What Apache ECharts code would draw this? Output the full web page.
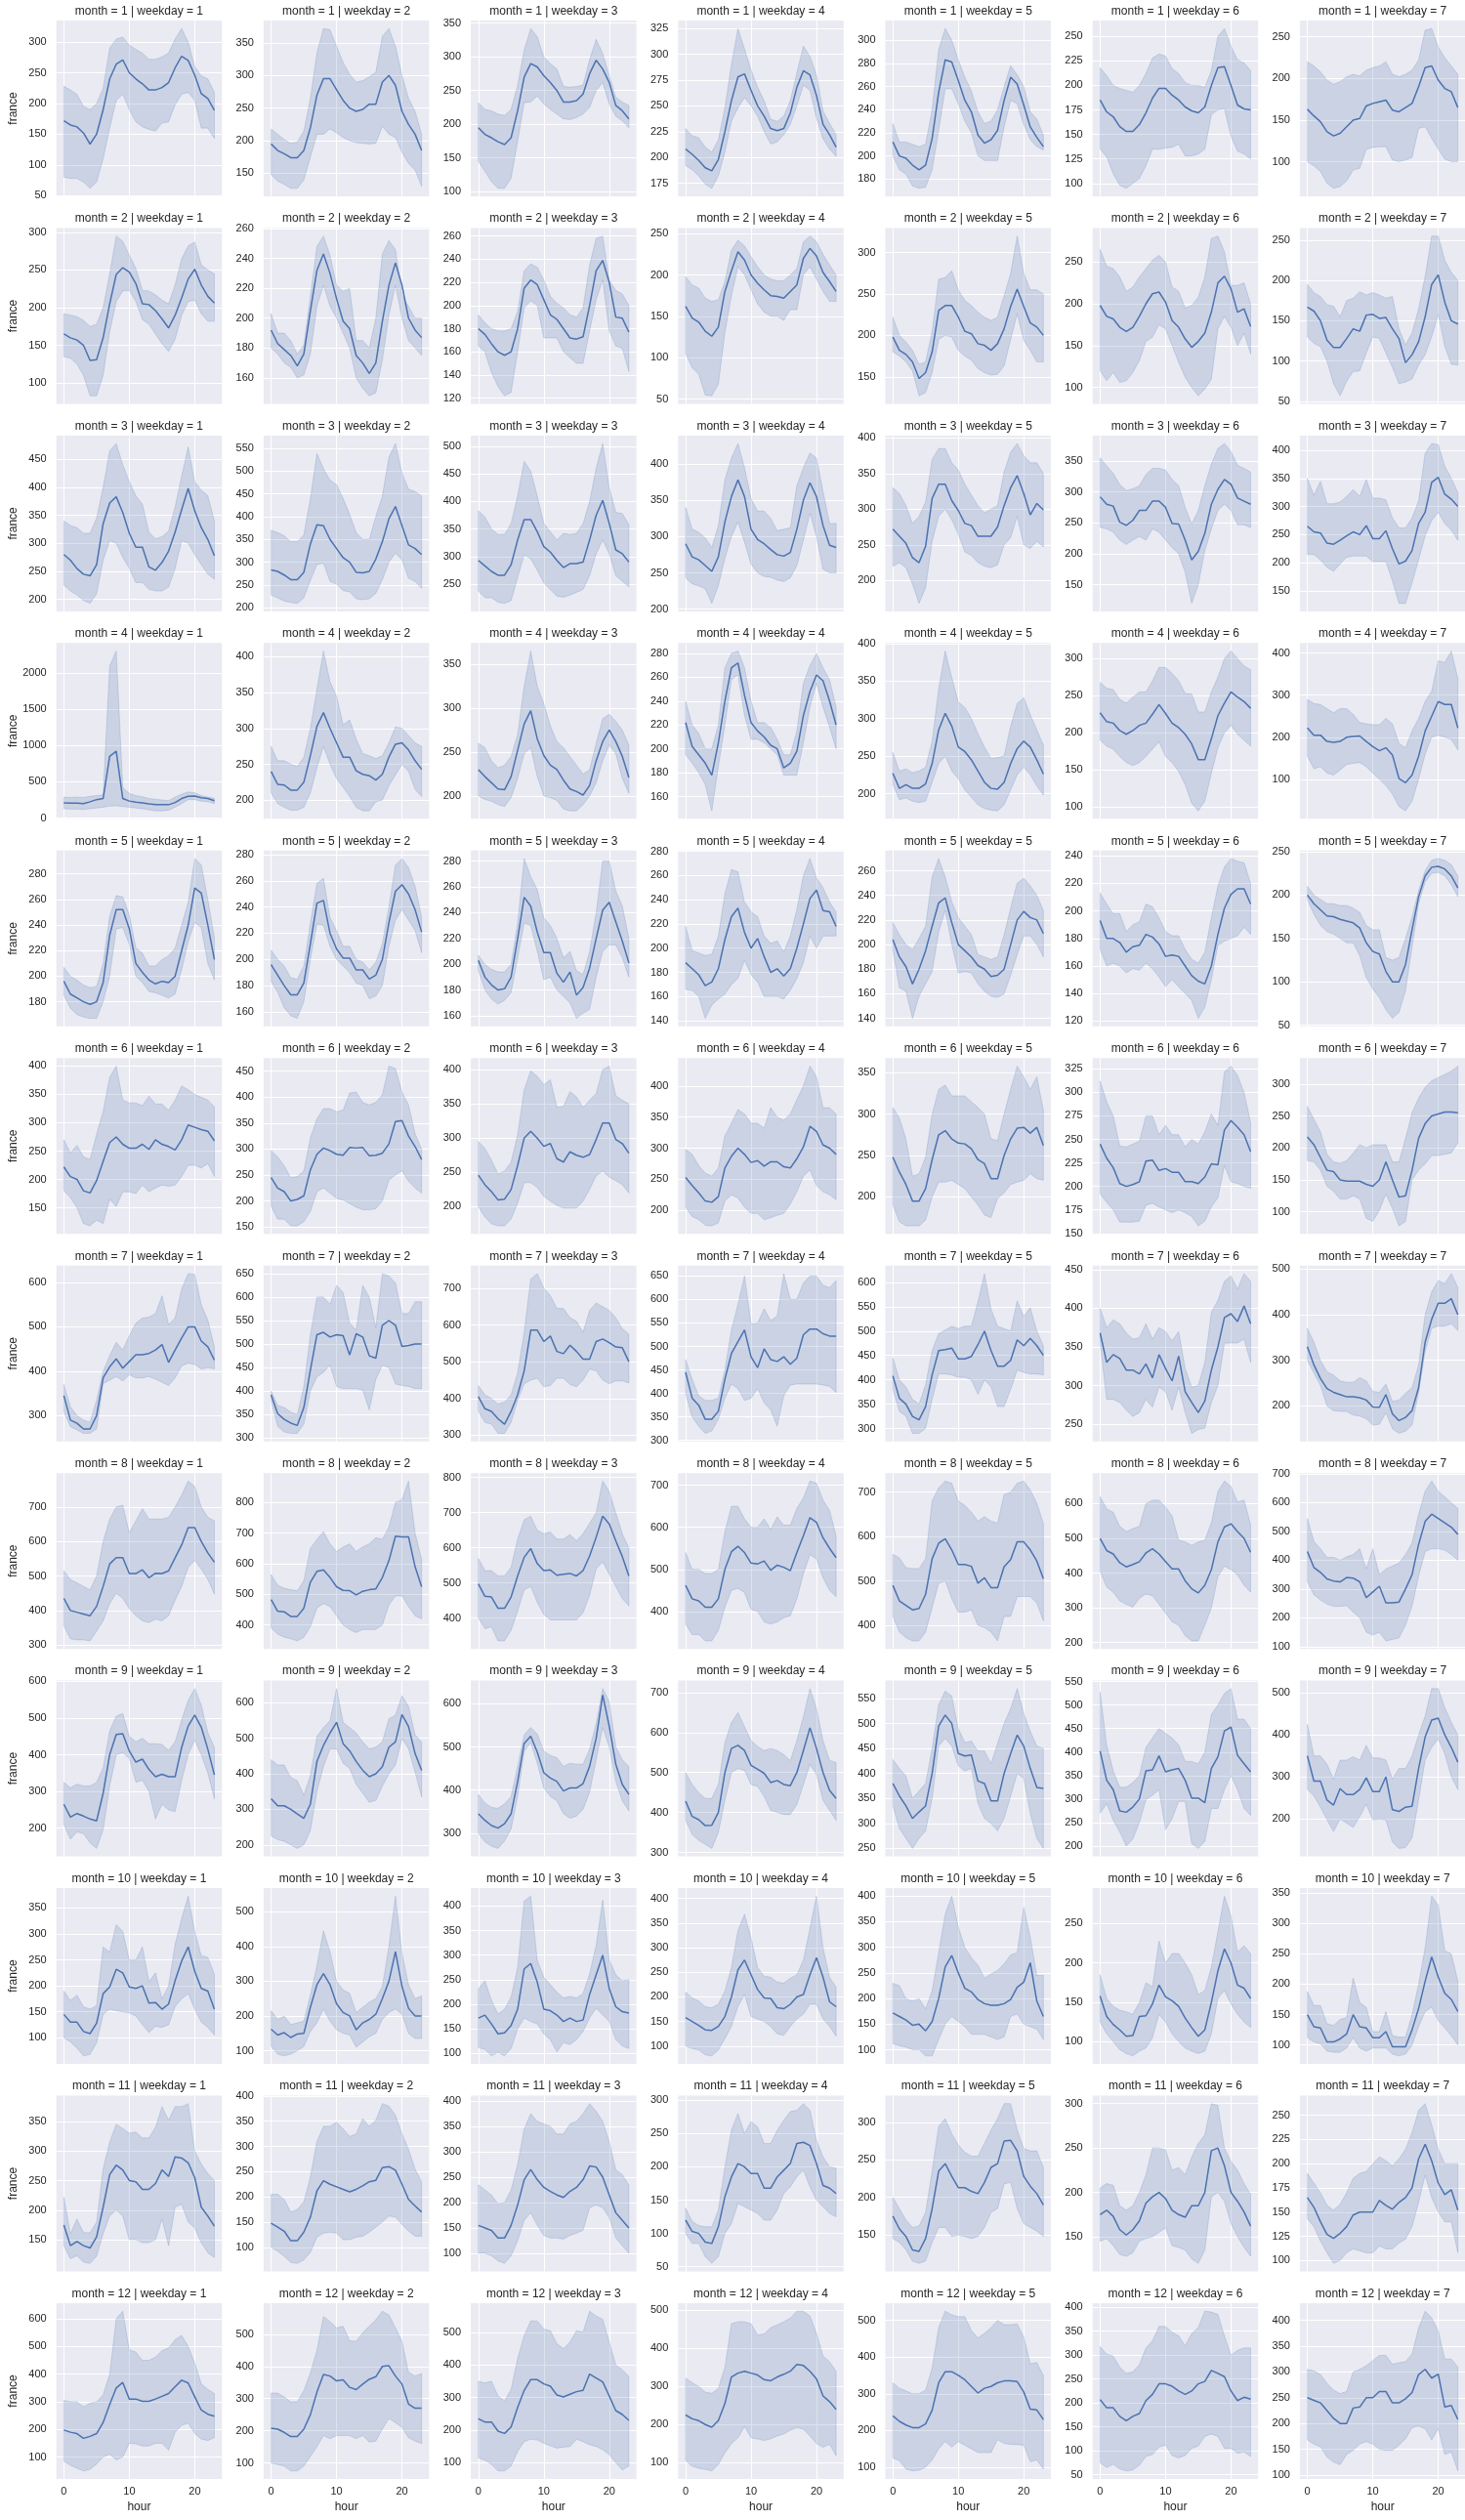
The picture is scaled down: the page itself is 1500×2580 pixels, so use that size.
<!DOCTYPE html>
<html><head><meta charset="utf-8">
<script src="https://cdn.jsdelivr.net/npm/echarts/dist/echarts.min.js"></script>
<style>html,body{margin:0;padding:0;background:#fff}#c{width:1500px;height:2580px}</style>
</head><body><div id="c"></div>
<script>
const hours = [0,1,2,3,4,5,6,7,8,9,10,11,12,13,14,15,16,17,18,19,20,21,22,23];
const months = [1,2,3,4,5,6,7,8,9,10,11,12];
const weekdays = [1,2,3,4,5,6,7];
const xTicks = [0,10,20];

const m1_mean = [
[172,165,162,152,134,150,190,240,264,271,250,240,232,222,222,226,234,258,277,270,246,216,208,189],
[195,185,180,174,174,185,220,270,295,295,278,262,250,245,248,256,256,290,300,285,245,225,210,185],
[195,185,180,174,170,180,220,270,290,285,272,262,250,233,233,235,245,275,295,282,262,228,220,208],
[208,203,197,190,187,198,225,255,278,281,265,250,240,228,226,228,243,268,284,280,260,232,222,210],
[212,200,198,192,188,192,215,255,283,281,265,248,238,218,211,214,222,248,268,262,244,225,216,208],
[185,173,168,158,153,153,160,172,187,197,197,190,185,178,174,172,178,200,218,219,200,180,176,175],
[163,155,148,136,131,134,142,150,152,167,170,172,174,162,160,165,170,190,213,215,198,188,184,165]];
const m1_lo = [
[80,78,78,72,62,72,110,160,205,215,190,170,162,158,155,168,170,198,215,218,205,160,160,143],
[148,138,133,127,127,140,175,210,210,218,212,205,200,197,196,195,196,222,210,205,182,165,155,130],
[145,130,115,105,105,120,175,232,233,242,230,222,215,208,207,210,215,225,250,262,230,212,205,195],
[192,188,182,174,170,182,205,235,248,258,250,240,225,213,215,222,232,250,270,265,238,218,208,201],
[200,188,184,174,172,173,188,222,258,258,245,230,220,200,196,196,196,225,248,245,227,214,208,205],
[135,127,110,98,95,100,105,118,135,135,136,137,140,128,128,130,135,170,175,176,148,133,130,125],
[100,95,88,74,68,70,77,90,92,115,117,118,118,102,100,102,105,140,142,128,115,103,100,100]];
const m1_hi = [
[228,222,215,195,190,200,225,290,305,308,295,288,282,272,272,276,282,305,322,300,260,245,240,218],
[218,210,202,196,198,215,265,335,372,370,345,320,302,290,292,298,305,360,372,345,300,265,245,210],
[232,222,220,215,213,222,258,310,342,330,300,290,282,256,255,256,258,296,326,305,272,240,233,228],
[228,221,219,210,205,217,248,290,325,305,285,268,255,237,235,240,255,282,308,298,280,245,233,222],
[228,212,212,210,208,210,240,292,310,300,283,268,256,238,228,230,240,260,278,270,260,238,232,218],
[218,210,200,197,195,193,200,212,228,232,230,217,212,203,200,200,198,215,250,258,240,226,223,215],
[220,215,208,198,193,196,202,205,203,210,213,215,220,205,202,205,210,222,258,260,238,225,215,205]];
const m1_ticks = [[50,100,150,200,250,300],[150,200,250,300,350],[100,150,200,250,300,350],[175,200,225,250,275,300,325],[180,200,220,240,260,280,300],[100,125,150,175,200,225,250],[100,150,200,250]];

const m2_mean = [
[165,160,157,150,130,131,160,205,244,253,247,232,205,204,196,185,173,190,213,238,251,230,215,206],
[192,183,179,175,168,176,205,232,243,230,213,198,193,175,170,163,170,198,222,237,222,200,192,187],
[180,175,167,160,157,160,180,215,222,218,205,192,188,180,172,171,173,200,230,239,220,190,189,177],
[162,148,143,132,126,137,180,205,228,218,200,190,182,175,174,172,180,188,220,232,223,203,192,180],
[198,182,177,168,148,155,180,230,236,236,222,205,202,190,188,182,190,208,235,256,235,215,210,200],
[198,185,182,172,167,172,185,200,212,214,202,180,172,158,148,155,165,190,225,233,218,190,194,173],
[167,162,150,126,117,117,128,140,137,157,158,153,154,140,128,98,108,124,155,195,207,173,150,146]];
const m2_lo = [
[135,133,125,110,83,83,110,168,208,222,223,208,184,178,165,152,142,158,190,208,210,192,182,182],
[180,176,170,167,160,162,176,208,222,208,200,190,180,160,153,148,150,172,202,222,200,185,180,175],
[165,160,142,130,122,125,160,198,204,200,172,172,172,160,155,150,150,178,205,222,178,165,163,143],
[105,88,80,55,54,68,130,175,210,200,182,165,155,150,150,145,158,158,200,210,195,180,168,168],
[180,175,168,157,127,131,155,195,200,198,182,175,170,160,155,152,153,163,195,226,194,182,168,168],
[120,108,118,106,108,118,132,155,160,175,170,150,130,112,100,90,98,110,170,185,172,150,165,140],
[130,122,118,100,72,57,75,87,88,110,130,128,110,92,72,74,78,95,108,130,158,118,96,95]];
const m2_hi = [
[192,190,188,183,175,178,200,245,295,288,270,252,223,222,217,210,205,230,265,282,287,257,250,245],
[203,190,190,185,176,182,215,248,255,242,222,218,220,185,185,180,200,243,252,246,215,208,200,200],
[192,185,180,178,178,180,195,230,236,233,222,208,202,198,192,190,198,235,258,260,222,213,210,200],
[198,188,184,172,168,170,192,230,242,235,222,210,200,195,193,193,200,208,240,247,240,225,212,200],
[222,200,192,182,165,168,205,268,270,278,255,242,236,228,222,218,222,248,275,320,275,255,255,250],
[265,245,242,232,215,220,232,242,252,258,250,220,215,195,198,208,232,278,281,262,222,222,225,200],
[195,185,180,170,168,155,175,178,186,182,185,182,178,180,140,120,135,165,205,255,255,225,210,200]];
const m2_ticks = [[100,150,200,250,300],[160,180,200,220,240,260],[120,140,160,180,200,220,240,260],[50,100,150,200,250],[150,200,250,300],[100,150,200,250],[50,100,150,200,250]];

const m3_mean = [
[280,270,255,245,242,262,335,372,383,355,318,293,293,258,252,266,286,320,360,398,358,328,307,278],
[283,280,272,262,262,278,340,382,380,350,330,310,300,278,277,280,307,345,395,422,380,338,330,317],
[293,283,273,266,266,285,330,367,367,345,318,308,293,280,287,287,290,330,375,402,360,312,305,290],
[290,272,268,260,252,272,320,355,378,355,310,296,290,282,275,273,278,310,350,374,355,315,288,285],
[272,262,252,232,225,248,315,335,335,312,298,280,277,262,262,262,275,305,330,347,322,292,308,299],
[292,280,277,251,246,254,270,270,285,285,275,249,248,222,190,204,233,280,304,320,312,290,285,280],
[265,255,253,235,233,240,248,255,250,266,243,243,257,225,198,203,222,270,290,343,352,322,313,300]];
const m3_lo = [
[225,215,208,198,193,210,270,305,300,275,255,230,230,218,215,215,222,255,305,300,280,262,245,236],
[228,222,215,212,210,222,260,295,298,258,252,238,235,220,218,220,232,262,300,320,305,265,258,243],
[237,225,225,217,215,220,262,303,296,275,252,240,228,226,230,235,240,265,305,330,305,265,255,245],
[243,235,232,228,208,232,270,300,320,292,262,250,245,244,240,238,243,260,295,332,300,255,250,250],
[220,225,218,195,168,190,255,290,300,285,265,240,235,225,220,218,222,250,260,290,250,245,255,247],
[243,240,235,222,215,222,228,222,240,235,222,210,200,170,120,150,205,240,270,280,270,247,247,242],
[215,215,205,192,185,198,210,212,212,212,202,202,202,168,128,128,165,205,248,275,290,270,258,240]];
const m3_hi = [
[340,332,328,318,318,345,400,465,478,440,410,385,370,320,308,312,322,365,420,472,410,395,385,340],
[370,365,358,345,345,360,440,538,505,480,470,440,405,365,350,350,400,445,530,560,495,460,455,445],
[383,372,350,340,340,360,410,473,455,410,360,345,330,342,340,342,360,400,460,505,425,380,378,358],
[340,310,306,298,285,315,378,408,428,395,352,335,335,325,308,310,312,370,395,415,408,362,318,318],
[330,322,305,280,290,310,370,385,385,365,355,335,320,305,295,300,305,352,380,392,375,365,365,350],
[355,342,330,312,302,305,310,328,338,338,335,320,310,275,248,270,310,345,370,378,365,343,338,332],
[350,320,345,305,305,308,318,330,318,348,315,315,312,280,262,262,280,310,395,412,410,372,350,325]];
const m3_ticks = [[200,250,300,350,400,450],[200,250,300,350,400,450,500,550],[200,250,300,350,400,450,500],[200,250,300,350,400],[200,250,300,350,400],[150,200,250,300,350],[150,200,250,300,350,400]];

const m4_mean = [
[210,205,205,200,225,255,270,850,920,270,235,220,210,195,185,185,185,215,270,300,305,280,270,240],
[240,222,221,214,214,225,262,303,322,300,280,260,260,241,236,234,228,236,260,278,280,270,255,243],
[230,222,215,208,207,222,252,282,297,265,246,235,230,218,208,205,201,212,240,262,275,262,245,221],
[222,202,195,188,178,205,240,268,272,245,222,215,210,203,200,184,188,198,228,248,262,257,240,220],
[227,207,212,207,207,213,240,285,307,290,262,256,245,230,215,207,206,215,240,260,270,262,245,226],
[227,215,213,203,198,203,210,213,225,238,226,213,207,198,185,164,164,192,223,240,255,248,242,233],
[222,205,205,190,188,190,200,202,203,190,178,168,175,158,102,92,110,155,215,250,285,278,278,222]];
const m4_lo = [
[130,125,125,120,130,140,150,165,170,160,150,140,130,115,100,100,110,150,200,255,255,235,225,200],
[210,195,190,186,186,190,210,245,275,250,230,218,205,190,185,185,198,200,220,235,250,240,215,205],
[200,196,194,190,188,198,220,248,255,222,200,198,195,185,183,183,190,200,215,240,258,248,220,203],
[195,188,180,170,148,185,220,258,262,228,208,208,205,200,195,178,178,178,205,235,255,235,218,200],
[212,192,194,190,188,190,215,240,250,230,220,205,195,185,180,178,177,185,205,225,235,225,210,198],
[190,182,178,168,160,156,160,168,178,188,168,160,148,130,105,95,108,145,180,200,210,198,190,182],
[155,125,130,115,110,122,135,138,140,130,115,100,85,65,35,25,48,100,160,200,205,200,195,170]];
const m4_hi = [
[290,285,290,285,300,310,320,2100,2300,420,340,310,295,270,260,250,240,290,330,360,350,310,290,275],
[275,255,255,250,247,260,300,355,408,365,345,305,312,285,265,262,258,262,280,302,300,290,280,275],
[260,255,240,232,235,245,270,325,365,325,305,280,262,255,245,235,225,230,260,288,293,285,275,258],
[240,220,213,200,200,220,268,280,282,268,240,222,222,218,208,195,195,215,255,270,280,268,258,235],
[255,230,233,228,230,235,270,340,390,355,322,315,300,280,262,247,248,250,290,320,328,305,285,265],
[268,260,258,245,240,248,255,255,270,288,288,280,270,253,252,228,228,255,275,300,310,300,290,285],
[290,280,278,268,258,268,268,255,235,232,230,230,245,232,185,175,215,245,285,310,382,378,405,340]];
const m4_ticks = [[0,500,1000,1500,2000],[200,250,300,350,400],[200,250,300,350],[160,180,200,220,240,260,280],[200,250,300,350,400],[100,150,200,250,300],[100,200,300,400]];

const m5_mean = [
[196,186,183,180,178,180,195,232,252,252,237,210,203,197,194,196,195,200,220,240,269,265,240,213],
[196,188,180,173,173,182,212,243,245,220,208,201,201,192,192,185,188,200,228,252,257,250,238,221],
[203,190,184,180,181,190,220,252,245,225,209,209,193,186,194,176,182,197,220,242,248,233,218,201],
[188,183,178,169,172,183,207,226,233,213,200,208,193,180,183,177,183,200,220,241,248,231,230,218],
[204,190,182,168,180,195,215,234,238,218,200,195,190,183,180,174,175,180,200,220,227,222,220,209],
[193,180,180,177,170,174,175,183,181,176,167,168,167,160,153,149,147,160,183,202,212,216,216,205],
[200,190,183,176,175,172,170,168,162,145,135,132,112,100,100,120,160,198,222,232,233,230,222,208]];
const m5_lo = [
[185,175,170,168,167,167,180,200,237,238,225,200,195,188,187,185,183,186,205,227,242,238,210,197],
[183,175,163,157,155,168,200,227,226,210,200,195,190,182,180,170,172,180,210,230,238,230,222,205],
[195,180,173,169,172,178,205,232,230,210,188,190,180,175,170,158,162,165,190,210,215,215,205,190],
[166,165,160,142,153,158,162,170,175,190,178,172,160,160,160,158,165,175,188,210,200,210,210,210],
[195,165,162,140,158,168,178,210,228,200,177,178,177,168,162,158,157,160,175,192,207,207,200,190],
[172,160,162,160,155,158,157,162,158,152,145,150,145,140,135,122,130,150,175,178,180,182,188,183],
[195,178,165,158,155,150,145,145,130,105,92,82,68,58,65,90,140,190,215,225,226,222,212,198]];
const m5_hi = [
[207,200,197,193,191,192,210,247,263,262,248,222,218,208,208,213,216,222,240,258,292,287,260,230],
[207,200,195,186,185,195,228,258,262,232,222,210,210,200,198,192,198,212,240,272,277,270,256,232],
[207,200,196,194,194,200,232,282,268,258,236,230,220,205,210,195,192,210,240,280,280,257,245,220],
[218,198,196,194,195,210,245,265,263,238,230,226,210,204,206,197,210,232,260,274,258,250,238,230],
[218,208,200,196,205,215,255,270,255,235,222,215,208,192,190,188,190,208,230,250,254,248,240,228],
[213,205,198,198,185,190,192,205,203,195,185,182,182,172,165,162,170,195,218,232,238,236,235,220],
[210,200,195,190,190,188,188,185,180,165,160,160,128,125,128,150,175,205,228,240,242,240,235,222]];
const m5_ticks = [[180,200,220,240,260,280],[160,180,200,220,240,260,280],[160,180,200,220,240,260,280],[140,160,180,200,220,240,260,280],[140,160,180,200,220,240,260],[120,140,160,180,200,220,240],[50,100,150,200,250]];

const m6_mean = [
[222,205,200,180,176,198,232,265,275,262,255,255,262,253,270,262,258,252,270,296,292,288,285,268],
[245,225,218,200,203,210,260,290,302,297,290,288,303,302,303,287,288,292,310,353,355,325,305,280],
[246,232,222,210,211,225,260,300,310,300,288,292,270,265,280,275,272,276,298,322,322,298,292,278],
[253,240,228,215,213,222,268,287,300,290,277,280,271,278,278,270,268,283,302,335,327,305,300,290],
[248,230,215,195,195,210,245,275,280,270,265,264,258,245,240,222,222,250,270,283,284,277,284,262],
[245,230,220,203,200,202,205,227,228,217,219,215,215,205,205,203,210,224,223,260,270,263,255,237],
[217,205,185,165,163,150,148,148,148,143,140,150,178,150,123,125,165,215,238,250,253,256,256,255]];
const m6_lo = [
[180,168,150,122,118,128,122,165,152,178,178,175,190,178,185,190,188,190,205,225,225,220,228,205],
[190,165,165,152,152,160,180,218,225,215,205,202,195,188,183,183,185,200,240,250,258,238,225,215],
[200,185,175,172,172,182,205,235,235,228,215,208,202,198,198,198,208,225,245,252,243,238,232,220],
[205,190,185,176,175,180,215,225,220,205,195,195,185,188,192,195,210,230,255,265,240,230,225,217],
[190,170,165,165,165,172,200,218,218,220,215,210,200,190,178,175,198,205,215,218,220,228,222,220],
[192,183,175,162,162,162,163,180,182,178,175,172,175,172,168,158,163,178,188,222,205,203,200,198],
[180,178,165,140,132,120,120,125,120,90,85,102,128,105,78,85,150,165,175,188,188,190,192,208]];
const m6_hi = [
[270,247,260,240,235,280,320,380,400,340,335,335,330,347,333,333,322,340,365,358,350,345,340,328],
[297,285,268,245,247,258,322,358,378,378,372,375,408,410,390,385,390,405,460,455,410,385,330,300],
[295,285,268,248,252,265,305,370,398,390,378,385,345,346,368,360,345,355,365,400,405,362,355,350],
[298,290,272,260,255,268,320,340,362,355,340,340,332,365,350,345,355,378,400,432,415,365,365,355],
[308,295,270,225,228,248,300,330,335,322,322,322,315,308,300,270,268,300,330,358,345,330,345,305],
[312,290,275,243,242,245,248,275,275,255,265,255,255,242,250,245,258,277,265,322,328,318,300,268],
[265,245,225,190,178,176,180,192,205,200,205,205,205,178,178,215,255,278,295,305,310,315,320,328]];
const m6_ticks = [[150,200,250,300,350,400],[150,200,250,300,350,400,450],[200,250,300,350,400],[200,250,300,350,400],[200,250,300,350],[150,175,200,225,250,275,300,325],[100,150,200,250,300]];

const m7_mean = [
[345,290,283,270,270,300,385,410,428,407,422,437,437,440,448,460,420,448,475,500,500,468,455,425],
[392,352,340,332,327,365,445,520,525,515,520,518,477,522,515,475,470,540,550,540,495,497,500,500],
[405,372,365,345,330,365,410,475,586,586,555,570,528,522,545,528,507,507,555,562,552,540,538,500],
[445,390,375,345,345,362,430,485,510,535,478,455,495,472,468,478,462,475,525,537,537,527,522,522],
[408,362,350,325,318,345,410,460,462,465,443,443,448,472,500,460,428,428,440,482,470,485,470,450],
[368,330,340,335,320,320,315,328,310,340,322,306,338,292,278,265,280,320,350,388,393,383,403,380],
[330,290,260,238,230,225,220,220,218,213,198,197,225,183,168,175,190,240,340,390,425,425,435,400]];
const m7_lo = [
[308,275,268,260,260,270,372,380,388,378,392,385,385,388,382,375,368,385,412,418,415,405,408,405],
[380,325,313,310,310,330,400,430,440,455,410,405,405,405,402,360,425,455,450,415,412,410,405,405],
[365,335,330,305,305,335,395,440,450,455,432,435,455,455,438,432,450,480,475,450,440,448,448,442],
[400,350,330,315,320,345,390,420,410,385,390,410,380,365,330,395,418,420,420,420,420,418,415,402],
[380,335,325,290,290,300,360,412,412,410,405,405,400,370,400,385,345,345,380,420,415,412,412,410],
[355,282,282,278,268,260,265,282,272,298,292,268,298,265,238,243,245,278,300,355,355,355,360,330],
[300,272,245,200,190,188,188,180,178,172,158,160,185,150,140,145,158,230,320,370,375,375,380,365]];
const m7_hi = [
[370,320,300,290,285,335,400,435,465,448,480,508,520,522,530,570,505,520,585,620,618,550,515,455],
[400,370,365,355,350,410,520,600,600,585,625,610,545,530,625,600,535,650,645,630,565,565,590,590],
[435,410,400,385,390,410,470,580,725,740,700,680,645,645,620,610,580,640,660,650,640,620,590,575],
[472,430,395,385,385,390,450,535,590,650,548,550,580,555,565,655,600,600,635,650,650,630,625,640],
[445,400,385,360,350,390,460,495,502,510,505,510,510,560,618,545,510,505,500,562,530,548,500,470],
[400,375,385,380,368,360,362,380,360,375,370,358,370,322,298,300,330,395,410,435,442,425,445,435],
[370,340,300,275,268,255,252,252,262,255,232,230,248,210,213,228,240,290,400,450,475,468,490,460]];
const m7_ticks = [[300,400,500,600],[300,350,400,450,500,550,600,650],[300,400,500,600,700],[300,350,400,450,500,550,600,650],[300,350,400,450,500,550,600],[250,300,350,400,450],[200,300,400,500]];

const m8_mean = [
[435,400,395,390,385,412,470,535,553,553,507,507,518,495,508,507,515,553,590,640,640,600,567,540],
[483,445,443,428,428,455,540,575,580,555,525,513,512,498,510,515,518,555,610,690,688,688,590,525],
[497,462,460,428,428,460,520,573,598,555,535,537,522,525,527,520,535,577,630,690,668,620,575,520],
[462,430,425,410,410,430,500,542,555,540,515,513,520,498,510,505,497,540,580,623,612,575,550,528],
[490,455,445,435,438,470,550,585,595,570,537,537,533,495,507,485,485,532,548,588,588,570,545,505],
[500,465,455,430,418,425,433,458,470,455,433,412,412,378,355,343,365,410,490,533,542,520,500,460],
[430,375,358,335,328,325,340,338,325,270,290,310,252,252,255,300,350,455,535,560,545,530,515,490]];
const m8_lo = [
[355,318,315,315,312,340,370,420,450,435,405,385,370,365,375,370,385,430,470,525,545,520,490,448],
[390,370,360,355,348,360,395,455,470,460,430,400,385,375,385,385,385,400,465,495,495,460,430,420],
[400,370,375,335,335,365,420,480,490,445,410,395,395,395,395,395,415,465,540,560,525,490,455,435],
[370,345,345,330,330,355,410,450,455,445,405,400,375,370,375,385,390,430,490,535,525,480,450,435],
[420,385,372,365,365,385,440,495,500,460,430,430,435,400,395,385,365,420,420,465,465,465,450,410],
[405,360,345,320,310,302,328,340,335,310,285,260,250,220,205,205,250,300,390,420,410,395,365,345],
[325,280,262,248,240,240,242,220,200,150,140,150,120,125,130,175,240,345,430,440,440,435,420,400]];
const m8_hi = [
[515,490,480,470,460,500,600,665,700,705,625,660,695,665,665,665,670,700,735,775,760,700,670,660],
[565,530,520,515,512,545,650,680,705,665,640,655,665,640,655,665,685,680,720,800,810,870,700,615],
[570,535,535,520,520,545,625,680,690,650,640,645,625,625,638,620,640,670,700,790,760,700,640,600],
[540,500,500,490,490,500,590,650,650,620,600,600,620,595,625,605,605,645,670,710,705,665,640,580],
[560,552,530,528,528,550,680,710,725,720,680,670,655,635,645,635,630,695,700,720,725,705,675,630],
[620,585,575,535,520,528,535,600,610,610,590,565,495,490,480,490,495,545,635,665,650,605,610,540],
[545,465,440,410,410,400,412,420,440,370,440,350,370,380,390,420,460,560,640,675,640,620,600,580]];
const m8_ticks = [[300,400,500,600,700],[400,500,600,700,800],[400,500,600,700,800],[400,500,600,700],[400,500,600,700],[200,300,400,500,600],[100,200,300,400,500,600,700]];

const m9_mean = [
[265,230,240,233,225,220,295,400,455,457,410,380,388,360,340,347,340,340,420,478,508,475,415,345],
[330,310,310,300,287,275,315,435,480,515,545,485,465,435,410,392,400,420,475,490,567,533,457,410],
[345,330,318,312,322,345,420,508,525,488,440,428,420,398,405,405,415,455,520,620,548,460,413,390],
[428,390,382,367,368,400,500,560,568,555,518,508,498,475,480,470,467,500,555,612,560,500,455,435],
[380,355,335,310,323,335,400,495,517,500,440,435,437,385,380,345,345,400,440,477,455,410,372,370],
[402,340,320,275,272,283,300,360,362,392,358,362,365,340,302,302,292,365,390,445,453,393,375,358],
[350,290,290,245,233,272,258,258,270,298,265,265,300,222,218,228,230,320,395,435,440,400,370,335]];
const m9_lo = [
[210,170,190,185,160,145,195,315,400,405,390,325,330,300,225,265,250,245,330,400,440,400,350,280],
[225,215,210,200,190,200,240,350,420,470,470,430,415,370,345,320,325,365,400,425,500,470,405,335],
[300,280,270,265,282,310,385,490,510,462,405,385,375,345,335,340,355,395,470,545,500,420,375,352],
[380,345,330,320,310,350,430,500,510,505,470,465,440,405,400,395,395,420,470,520,495,430,405,380],
[335,290,270,250,270,285,350,455,470,455,415,405,410,340,310,300,285,310,355,400,390,320,270,250],
[270,290,255,230,200,215,250,298,308,320,235,258,295,295,205,195,210,280,280,320,350,320,280,265],
[270,255,228,198,170,200,190,180,205,235,198,200,198,145,130,132,155,245,340,370,390,355,300,270]];
const m9_hi = [
[325,310,320,315,315,325,365,465,505,512,450,435,445,430,430,428,412,435,495,548,580,535,460,420],
[440,425,425,390,380,340,395,505,530,550,640,545,530,515,490,470,475,490,555,565,620,590,510,490],
[390,370,360,358,368,385,455,528,545,530,490,480,475,455,462,460,460,495,555,635,605,500,470,455],
[500,470,450,435,435,470,575,625,650,615,580,565,555,560,555,545,530,580,640,710,660,580,530,525],
[428,410,395,350,365,380,450,538,565,555,490,462,465,445,445,420,460,500,530,570,520,485,455,450],
[528,415,360,325,325,335,350,410,430,450,440,430,415,380,380,375,400,480,500,525,535,470,470,450],
[425,350,350,330,295,340,340,348,340,375,345,345,340,295,320,320,350,400,445,510,510,465,430,400]];
const m9_ticks = [[200,300,400,500,600],[200,300,400,500,600],[300,400,500,600],[300,400,500,600,700],[250,300,350,400,450,500,550],[200,250,300,350,400,450,500,550],[200,300,400,500]];

const m10_mean = [
[145,130,130,112,108,128,185,198,232,225,198,195,200,167,168,155,165,210,248,275,228,195,190,155],
[162,145,152,138,148,150,225,290,322,290,235,210,200,160,180,190,205,250,300,385,285,222,200,200],
[172,178,160,140,142,157,190,272,283,245,190,187,178,165,172,165,168,220,260,300,232,195,185,182],
[158,150,142,133,132,140,160,200,255,275,245,215,198,197,178,176,185,200,205,245,280,240,190,180],
[172,165,158,148,150,137,155,200,262,284,250,220,213,198,190,187,187,190,198,222,232,270,195,165],
[158,132,122,115,107,108,132,133,148,172,157,152,145,130,118,107,115,150,190,218,200,172,168,155],
[150,130,128,105,105,110,118,150,130,128,112,112,122,97,97,97,125,160,205,245,212,185,175,155]];
const m10_lo = [
[100,92,80,65,68,90,145,155,152,150,148,142,125,110,122,120,125,160,175,185,155,130,120,105],
[112,90,85,90,100,112,155,180,220,185,160,150,145,110,125,140,150,190,210,220,205,150,135,135],
[112,108,95,102,95,110,150,172,165,160,140,128,103,122,118,128,145,172,192,178,165,128,115,110],
[100,95,92,82,80,92,115,140,180,205,160,155,150,140,125,122,140,155,165,185,185,155,140,120],
[112,108,105,100,100,88,88,120,150,165,155,145,130,130,130,125,120,125,165,170,150,145,140,120],
[125,110,100,90,85,82,88,92,105,135,125,110,100,92,88,85,88,110,155,165,148,135,125,118],
[112,105,102,90,88,88,95,112,95,90,95,95,95,85,82,85,100,130,155,162,140,128,115,100]];
const m10_hi = [
[190,172,182,160,155,162,275,265,318,305,250,250,275,208,225,175,200,280,330,373,305,258,255,222],
[215,190,200,175,180,185,260,345,445,385,300,275,265,210,225,240,250,285,400,545,380,290,250,258],
[232,248,208,180,190,215,275,410,420,290,255,240,225,213,216,213,222,262,320,412,290,260,248,250],
[210,198,192,180,178,185,212,260,335,368,320,260,242,240,230,228,238,245,275,340,405,300,240,220],
[230,225,200,195,200,180,215,290,365,400,340,300,280,265,240,248,255,268,285,290,378,320,245,245],
[185,155,145,140,138,135,150,175,170,228,200,212,212,200,185,160,165,195,240,285,260,214,222,212],
[188,165,165,135,132,142,145,210,170,162,122,122,155,115,113,113,150,200,260,345,330,255,250,205]];
const m10_ticks = [[100,150,200,250,300,350],[100,200,300,400,500],[100,150,200,250,300,350,400],[100,150,200,250,300,350,400],[100,150,200,250,300,350,400],[100,150,200,250],[100,150,200,250,300,350]];

const m11_mean = [
[175,140,147,140,136,155,205,260,276,268,250,248,235,235,245,268,257,290,288,280,255,205,190,173],
[148,140,132,113,113,130,160,212,232,225,220,215,210,215,222,230,233,258,260,253,225,195,182,170],
[155,150,145,130,130,155,195,245,265,245,230,222,215,210,222,230,245,272,270,250,215,180,165,150],
[120,103,100,87,85,110,155,185,205,200,190,190,168,168,185,195,205,235,237,232,205,172,168,160],
[175,158,148,130,128,145,185,235,245,228,213,213,208,205,220,240,245,275,276,262,228,215,205,190],
[175,180,173,158,152,158,168,188,195,200,193,180,175,172,185,185,200,247,250,230,200,190,178,162],
[165,155,140,127,123,128,135,147,150,150,150,162,157,153,160,165,175,205,220,203,180,168,173,152]];
const m11_lo = [
[140,118,123,112,110,122,160,190,200,190,150,150,145,145,150,185,140,205,210,180,170,145,128,120],
[100,92,82,70,68,75,90,120,128,130,128,115,115,120,122,130,140,150,162,160,145,132,122,122],
[100,100,95,85,80,95,125,165,180,155,135,130,130,128,135,140,145,190,195,190,170,130,115,100],
[100,85,85,65,55,65,100,115,145,140,135,130,120,120,135,160,170,185,195,170,150,140,130,125],
[145,140,130,115,112,115,140,160,160,148,150,148,145,148,160,180,185,218,220,185,165,160,155,148],
[145,148,140,130,128,132,145,148,150,155,160,140,138,135,125,120,135,195,200,190,165,150,138,128],
[143,135,120,108,97,100,108,112,110,108,108,115,112,112,118,122,135,160,188,165,150,140,140,108]];
const m11_hi = [
[222,160,185,162,162,180,270,315,345,338,330,332,322,322,340,375,352,375,375,380,300,278,262,250],
[205,205,195,170,175,190,240,310,340,340,348,335,320,325,355,340,352,385,380,362,325,295,255,230],
[235,225,215,198,200,225,275,345,375,360,355,350,335,335,355,360,375,395,380,360,320,265,255,235],
[138,118,112,110,110,135,200,255,280,250,268,260,235,235,255,270,283,285,295,285,240,215,200,198],
[200,185,170,160,162,180,235,295,305,285,270,260,255,255,272,290,305,325,325,290,265,262,262,240],
[205,210,208,185,180,185,200,220,250,250,248,225,228,220,240,255,265,300,298,250,235,225,210,198],
[190,180,170,157,152,158,170,185,190,192,200,207,203,198,205,215,232,255,262,240,215,200,200,200]];
const m11_ticks = [[150,200,250,300,350],[100,150,200,250,300,350,400],[100,150,200,250,300,350,400],[50,100,150,200,250,300],[150,200,250,300],[150,200,250,300],[100,125,150,175,200,225,250]];

const m12_mean = [
[198,190,185,168,175,185,225,290,350,370,310,310,302,302,310,320,330,355,378,368,318,270,255,248],
[208,205,195,182,182,205,250,320,375,370,355,358,335,328,345,360,368,400,402,370,345,283,270,270],
[235,225,225,197,190,210,270,322,355,355,342,335,308,302,310,318,322,372,360,348,305,260,248,230],
[225,215,210,200,193,210,255,325,335,340,335,330,318,315,325,332,340,358,355,340,320,275,260,240],
[240,225,215,208,208,218,255,330,360,360,350,338,320,302,315,320,330,335,335,333,305,258,256,230],
[207,190,190,172,163,172,178,205,218,240,240,235,225,218,225,240,245,268,262,255,225,205,212,208],
[250,245,240,225,210,200,200,230,232,250,250,262,262,240,240,248,260,295,305,288,296,232,235,208]];
const m12_lo = [
[85,70,60,50,55,75,100,110,90,100,150,148,140,140,150,150,125,190,215,222,185,165,160,170],
[100,95,90,75,75,90,120,150,185,175,185,185,185,175,185,165,168,205,238,225,210,178,168,160],
[115,108,95,75,75,90,135,165,172,170,160,152,145,148,150,172,165,155,150,140,125,100,78,90],
[105,90,85,82,78,95,125,150,165,195,165,162,158,162,170,175,185,192,188,170,150,140,148,118],
[125,118,95,90,92,100,120,150,170,155,170,160,150,140,140,140,175,165,162,162,160,115,120,95],
[75,65,72,62,58,60,70,88,92,108,112,90,85,90,105,110,130,135,130,105,105,95,98,88],
[168,160,155,135,125,120,140,148,160,165,160,150,148,148,158,170,192,195,190,168,190,140,145,108]];
const m12_hi = [
[305,300,300,282,295,300,325,400,600,628,488,480,450,450,462,485,495,525,540,500,440,365,345,330],
[317,317,305,290,290,325,380,450,555,540,520,525,480,478,505,525,545,572,560,520,478,382,370,378],
[350,345,350,305,290,325,420,490,535,535,510,505,465,450,470,505,500,565,550,540,470,400,385,365],
[322,310,300,285,282,295,350,465,470,470,465,435,438,455,462,470,480,498,498,485,440,380,365,340],
[330,315,308,300,300,310,370,480,525,515,510,510,472,452,465,480,500,488,488,490,455,382,385,350],
[318,302,298,275,262,265,280,315,330,360,360,348,340,320,345,358,392,390,385,340,300,310,315,315],
[305,302,295,278,265,258,262,300,305,312,322,332,332,315,318,320,335,385,418,405,380,325,325,310]];
const m12_ticks = [[100,200,300,400,500,600],[100,200,300,400,500],[100,200,300,400,500],[100,200,300,400,500],[100,200,300,400,500],[50,100,150,200,250,300,350,400],[100,150,200,250,300,350,400]];

const MEAN = [m1_mean,m2_mean,m3_mean,m4_mean,m5_mean,m6_mean,m7_mean,m8_mean,m9_mean,m10_mean,m11_mean,m12_mean];
const LO = [m1_lo,m2_lo,m3_lo,m4_lo,m5_lo,m6_lo,m7_lo,m8_lo,m9_lo,m10_lo,m11_lo,m12_lo];
const HI = [m1_hi,m2_hi,m3_hi,m4_hi,m5_hi,m6_hi,m7_hi,m8_hi,m9_hi,m10_hi,m11_hi,m12_hi];
const TICKS = [m1_ticks,m2_ticks,m3_ticks,m4_ticks,m5_ticks,m6_ticks,m7_ticks,m8_ticks,m9_ticks,m10_ticks,m11_ticks,m12_ticks];

const FONT = "'Liberation Sans', Arial, sans-serif";
const TXT = '#262626';
const LINE = '#4C72B0';
const BAND = 'rgba(76,114,176,0.2)';
const PL = 57.7, PW = 169.5, PCX = 212.2, PT = 21, PH = 180, PRY = 212.45;
const plainFmt = v => String(v);

const grids = [], xAxes = [], yAxes = [], series = [], graphics = [];
months.forEach((m, r) => {
  weekdays.forEach((w, c) => {
    const idx = r * 7 + c;
    const left = PL + c * PCX, top = PT + r * PRY;
    const mn = MEAN[r][c], lo = LO[r][c], hi = HI[r][c];
    const dmin = Math.min(...lo, ...mn), dmax = Math.max(...hi, ...mn);
    const pad = (dmax - dmin) * 0.05;
    const ymin = dmin - pad, ymax = dmax + pad;
    const ticks = TICKS[r][c].filter(t => t >= ymin && t <= ymax);
    grids.push({left: left, top: top, width: PW, height: PH, show: true, backgroundColor: '#EAEAF2', borderWidth: 0, containLabel: false, outerBoundsMode: 'none'});
    xAxes.push({
      type: 'value', gridIndex: idx, min: -1.15, max: 24.15,
      axisLine: {show: false}, axisTick: {show: false, customValues: xTicks},
      axisLabel: {show: r === 11, customValues: xTicks, fontSize: 11, color: TXT, fontFamily: FONT, margin: 8, formatter: plainFmt},
      splitLine: {show: true, lineStyle: {color: '#ffffff', width: 1}},
      name: r === 11 ? 'hour' : '', nameLocation: 'middle', nameGap: 23,
      nameTextStyle: {fontSize: 12, color: TXT, fontFamily: FONT}
    });
    yAxes.push({
      type: 'value', gridIndex: idx, min: ymin, max: ymax,
      axisLine: {show: false}, axisTick: {show: false, customValues: ticks},
      axisLabel: {customValues: ticks, fontSize: 11, color: TXT, fontFamily: FONT, margin: 10, formatter: plainFmt},
      splitLine: {show: true, lineStyle: {color: '#ffffff', width: 1}},
      name: c === 0 ? 'france' : '', nameLocation: 'middle', nameGap: 38, nameRotate: 90,
      nameTextStyle: {fontSize: 12, color: TXT, fontFamily: FONT}
    });
    series.push({
      type: 'custom', xAxisIndex: idx, yAxisIndex: idx, silent: true, z: 1,
      data: hours.map((h, i) => [h, lo[i], hi[i]]),
      encode: {x: 0, y: [1, 2]},
      renderItem: function (params, api) {
        if (params.dataIndex !== 0) return null;
        const pts = [];
        for (let i = 0; i < hours.length; i++) pts.push(api.coord([hours[i], hi[i]]));
        for (let i = hours.length - 1; i >= 0; i--) pts.push(api.coord([hours[i], lo[i]]));
        return {type: 'polygon', shape: {points: pts}, style: {fill: BAND, stroke: BAND, lineWidth: 1}};
      }
    });
    series.push({
      type: 'line', xAxisIndex: idx, yAxisIndex: idx, silent: true, z: 3,
      data: hours.map((h, i) => [h, mn[i]]),
      symbol: 'none', showSymbol: false,
      lineStyle: {color: LINE, width: 1.5}
    });
    graphics.push({
      type: 'text', x: left + PW / 2, y: top - 9.5, silent: true,
      style: {text: 'month = ' + m + ' | weekday = ' + w, textAlign: 'center', textVerticalAlign: 'middle',
              font: '12px ' + FONT, fill: TXT}
    });
  });
});

const chart = echarts.init(document.getElementById('c'), null, {renderer: 'canvas'});
chart.setOption({
  animation: false,
  backgroundColor: '#ffffff',
  grid: grids, xAxis: xAxes, yAxis: yAxes, series: series,
  graphic: graphics
});
</script>
</body></html>
